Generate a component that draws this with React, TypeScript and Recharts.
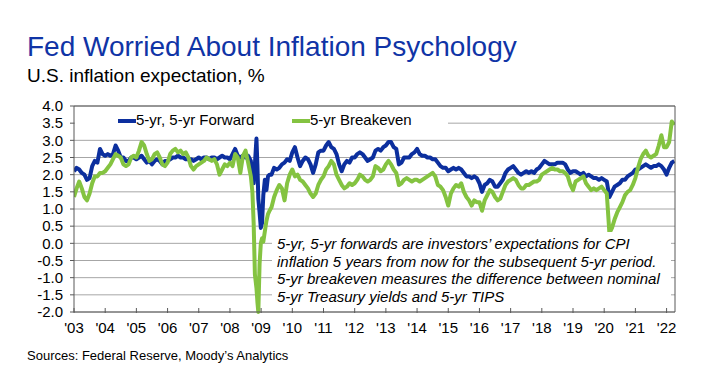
import React from "react"
import { CartesianGrid, Legend, Line, LineChart, ReferenceLine, XAxis, YAxis } from "recharts"

const FONT = "Arial, 'Liberation Sans', Helvetica, sans-serif"
const BLUE = "#0c2f9e"
const GREEN = "#84c341"
const AXIS = "#595959"
const GRID = "#a6a6a6"

const yearTicks = [2003, 2004, 2005, 2006, 2007, 2008, 2009, 2010, 2011, 2012, 2013, 2014, 2015, 2016, 2017, 2018, 2019, 2020, 2021, 2022]
const valueTicks = [-2, -1.5, -1, -0.5, 0, 0.5, 1, 1.5, 2, 2.5, 3, 3.5, 4]

// monthly, Jan 2003 - Apr 2022
const forward5y5y = [
  2.1, 2.2, 2.15, 2.05, 2.0, 1.85, 1.9, 2.25, 2.4, 2.35, 2.75, 2.6,
  2.55, 2.6, 2.55, 2.6, 2.85, 2.7, 2.5, 2.5, 2.4, 2.4, 2.5, 2.5,
  2.45, 2.5, 2.55, 2.45, 2.35, 2.4, 2.3, 2.4, 2.45, 2.4, 2.3, 2.4,
  2.4, 2.45, 2.5, 2.5, 2.55, 2.5, 2.5, 2.45, 2.45, 2.45, 2.4, 2.45,
  2.5, 2.45, 2.5, 2.5, 2.45, 2.5, 2.5, 2.45, 2.5, 2.55, 2.5, 2.5,
  2.45, 2.6, 2.75, 2.55, 2.5, 2.55, 2.5, 2.55, 2.4, 1.8, 2.9, 1.2,
  0.45, 1.5, 1.55, 2.0, 2.0, 2.2, 2.15, 2.2, 2.3, 2.35, 2.45, 2.4,
  2.65, 2.8, 2.5, 2.25, 2.4, 2.5, 2.45, 2.3, 2.05, 2.3, 2.65, 2.7,
  2.7, 2.85, 2.95, 2.8, 2.75, 2.6, 2.3, 2.1, 2.3, 2.4, 2.35, 2.5,
  2.5, 2.6, 2.65, 2.6, 2.5, 2.4, 2.45, 2.5, 2.7, 2.75, 2.7, 2.8,
  2.85, 2.95, 2.95, 2.8, 2.75, 2.3, 2.35, 2.5, 2.5, 2.5, 2.6, 2.65,
  2.75, 2.6, 2.55, 2.55, 2.5, 2.5, 2.45, 2.45, 2.35, 2.25, 2.2, 2.2,
  2.1, 2.15, 2.2, 2.15, 2.2, 2.15, 2.05, 1.95, 1.95, 1.9, 1.95, 1.9,
  1.75, 1.5, 1.7, 1.75, 1.85, 1.8, 1.65, 1.65, 1.75, 1.85, 2.05, 2.15,
  2.2, 2.25, 2.15, 2.05, 2.0, 2.05, 2.1, 2.05, 2.1, 2.05, 2.15, 2.2,
  2.3, 2.4, 2.35, 2.3, 2.3, 2.3, 2.35, 2.35, 2.35, 2.3, 2.15, 2.05,
  2.1, 2.1, 2.05, 2.0, 2.05, 1.95, 2.0, 1.95, 1.9, 1.9, 1.85, 1.9,
  1.85, 1.8, 1.35, 1.5, 1.65, 1.7, 1.75, 1.85, 1.85, 1.95, 2.0, 2.05,
  2.15, 2.15, 2.2, 2.25, 2.3, 2.25, 2.2, 2.25, 2.25, 2.3, 2.25, 2.15,
  2.0, 2.2, 2.35, 2.4,
]

const breakeven5y = [
  1.35, 1.6, 1.8, 1.6, 1.35, 1.25, 1.45, 1.75, 1.95, 1.95, 2.05, 2.05,
  2.1, 2.2, 2.3, 2.45, 2.6, 2.55, 2.5, 2.3, 2.25, 2.3, 2.5, 2.55,
  2.5, 2.7, 2.95, 2.85, 2.6, 2.4, 2.45, 2.6, 2.65, 2.5, 2.3, 2.25,
  2.35, 2.6, 2.7, 2.75, 2.65, 2.7, 2.6, 2.65, 2.5, 2.25, 2.15, 2.25,
  2.3, 2.35, 2.4, 2.5, 2.45, 2.4, 2.45, 2.3, 2.0, 2.15, 2.3, 2.25,
  2.35, 2.25, 2.6, 2.5, 2.05, 2.55, 2.7, 2.35, 1.95, 0.8, -1.2, -2.0,
  0.0, 0.15, 0.65, 0.9, 1.05, 1.35, 1.55, 1.7, 1.6, 1.25, 1.75, 2.0,
  2.15, 1.95, 2.0, 1.85, 1.8, 1.7, 1.6, 1.45, 1.35, 1.45, 1.7, 1.85,
  1.95, 2.15, 2.25, 2.4, 2.3, 2.0, 1.85, 1.7, 1.6, 1.65, 1.75, 1.7,
  1.75, 1.85, 2.0, 1.95, 1.85, 1.8, 1.85, 1.95, 2.25, 2.2, 2.1, 2.15,
  2.3, 2.4, 2.3, 2.15, 2.05, 1.7, 1.75, 1.85, 1.9, 1.85, 1.8, 1.85,
  1.85, 1.8, 1.85, 1.9, 1.95, 2.0, 2.05, 1.95, 1.7, 1.65, 1.55, 1.35,
  1.1, 1.45, 1.6, 1.7, 1.65, 1.75, 1.5, 1.35, 1.25, 1.1, 1.25, 1.2,
  1.2, 0.95, 1.25, 1.4, 1.55, 1.5, 1.35, 1.25, 1.3, 1.5, 1.7, 1.8,
  1.85, 1.9, 1.85, 1.7, 1.6, 1.6, 1.7, 1.7, 1.75, 1.8, 1.8, 1.85,
  2.0, 2.05, 2.1, 2.15, 2.2, 2.15, 2.15, 2.1, 2.1, 2.05, 1.95, 1.7,
  1.55, 1.8, 1.85, 1.9, 1.95, 1.75, 1.65, 1.55, 1.6, 1.55, 1.6, 1.65,
  1.55, 1.45, 0.3, 0.45, 0.7, 0.9, 1.05, 1.2, 1.4, 1.5, 1.55, 1.7,
  1.9, 2.2, 2.45, 2.6, 2.7, 2.55, 2.5, 2.55, 2.6, 2.85, 3.15, 2.8,
  2.8, 2.95, 3.55, 3.45,
]

// finer detail through the late-2008 crash
const crashDates = [2008.67, 2008.72, 2008.76, 2008.8, 2008.85, 2008.88, 2008.91, 2008.95, 2008.99, 2009.03, 2009.07, 2009.12, 2009.17, 2009.22, 2009.27]
const crashForward = [2.4, 2.0, 1.75, 2.3, 3.05, 2.3, 1.3, 0.9, 0.45, 0.6, 1.4, 1.85, 1.55, 1.95, 2.0]
const crashBreakeven = [1.95, 1.5, 0.6, -0.9, -1.3, -1.7, -2.0, -0.6, 0.0, 0.15, 0.05, 0.35, 0.65, 0.85, 0.95]

const data = (() => {
  const lo = crashDates[0] - 0.01
  const hi = crashDates[crashDates.length - 1] + 0.01
  const monthly = forward5y5y
    .map((f, i) => ({ t: 2003 + i / 12, forward: f, breakeven: breakeven5y[i] }))
    .filter((r) => r.t < lo || r.t > hi)
  const detail = crashDates.map((t, i) => ({ t, forward: crashForward[i], breakeven: crashBreakeven[i] }))
  return [...monthly, ...detail].sort((a, b) => a.t - b.t)
})()

function YearTick({ x, y, payload }: any) {
  return (
    <g>
      <line x1={x} x2={x} y1={y - 4} y2={y + 1} stroke={AXIS} />
      <text x={x} y={y + 21} textAnchor="middle" fill="#000" fontSize={15}>
        {"'" + String(payload.value).slice(2)}
      </text>
    </g>
  )
}

function InnerTick({ x, y }: any) {
  return <line x1={x - 4} x2={x} y1={y} y2={y} stroke={AXIS} />
}

function LegendBox() {
  return (
    <div style={{ position: "relative", background: "#fff", width: 373, height: 27, fontSize: 15, color: "#000", fontFamily: FONT }}>
      <span style={{ position: "absolute", left: 43, top: 12, width: 18, height: 4, background: BLUE }} />
      <span style={{ position: "absolute", left: 61, top: 4 }}>5-yr, 5-yr Forward</span>
      <span style={{ position: "absolute", left: 217, top: 12, width: 18, height: 4, background: GREEN }} />
      <span style={{ position: "absolute", left: 235, top: 4 }}>5-yr Breakeven</span>
    </div>
  )
}

export default function App() {
  return (
    <div style={{ position: "absolute", left: 0, top: 0, width: 724, height: 374, background: "#fff", fontFamily: FONT }}>
      <div style={{ position: "absolute", left: 27, top: 33, fontSize: 28, lineHeight: 1, color: "#1034a6", whiteSpace: "nowrap" }}>
        Fed Worried About Inflation Psychology
      </div>
      <div style={{ position: "absolute", left: 27, top: 66, fontSize: 19, lineHeight: 1, color: "#000", whiteSpace: "nowrap" }}>
        U.S. inflation expectation, %
      </div>

      <LineChart width={724} height={374} data={data} margin={{ top: 106, right: 45, bottom: 32, left: 34 }}>
        <CartesianGrid horizontal vertical={false} stroke={GRID} />
        <ReferenceLine y={4} stroke={AXIS} />
        <XAxis
          dataKey="t"
          type="number"
          domain={[2003, 2022.27]}
          ticks={yearTicks}
          allowDataOverflow
          height={30}
          tickSize={0}
          tickMargin={0}
          tickLine={false}
          stroke={AXIS}
          tick={<YearTick />}
          interval={0}
        />
        <YAxis
          domain={[-2, 4]}
          ticks={valueTicks}
          width={40}
          tickSize={4}
          tickMargin={7}
          stroke={AXIS}
          tick={{ fill: "#000", fontSize: 15 }}
          tickFormatter={(v: number) => v.toFixed(1)}
          interval={0}
        />
        <YAxis
          yAxisId="right"
          orientation="right"
          domain={[-2, 4]}
          ticks={valueTicks}
          width={4}
          tickSize={0}
          tickMargin={0}
          tickLine={false}
          stroke={AXIS}
          tick={<InnerTick />}
          interval={0}
        />
        <Legend
          layout="horizontal"
          verticalAlign="middle"
          align="center"
          wrapperStyle={{ left: 75, top: 107, width: 373, height: 27 }}
          content={<LegendBox />}
        />
        <Line
          name="5-yr, 5-yr Forward"
          dataKey="forward"
          stroke={BLUE}
          strokeWidth={4}
          dot={false}
          strokeLinejoin="round"
          isAnimationActive={false}
        />
        <Line
          name="5-yr Breakeven"
          dataKey="breakeven"
          stroke={GREEN}
          strokeWidth={4}
          dot={false}
          strokeLinejoin="round"
          isAnimationActive={false}
        />
      </LineChart>

      <div
        style={{
          position: "absolute",
          left: 272,
          top: 232,
          width: 394,
          height: 72,
          padding: "3px 0 0 5px",
          background: "#fff",
          fontSize: 15,
          fontStyle: "italic",
          lineHeight: "17.7px",
          color: "#000",
          whiteSpace: "nowrap",
        }}
      >
        <div>5-yr, 5-yr forwards are investors’ expectations for CPI</div>
        <div>inflation 5 years from now for the subsequent 5-yr period.</div>
        <div>5-yr breakeven measures the difference between nominal</div>
        <div>5-yr Treasury yields and 5-yr TIPS</div>
      </div>

      <div style={{ position: "absolute", left: 27, top: 349, fontSize: 13, lineHeight: 1, color: "#000", whiteSpace: "nowrap" }}>
        Sources: Federal Reserve, Moody’s Analytics
      </div>
    </div>
  )
}
